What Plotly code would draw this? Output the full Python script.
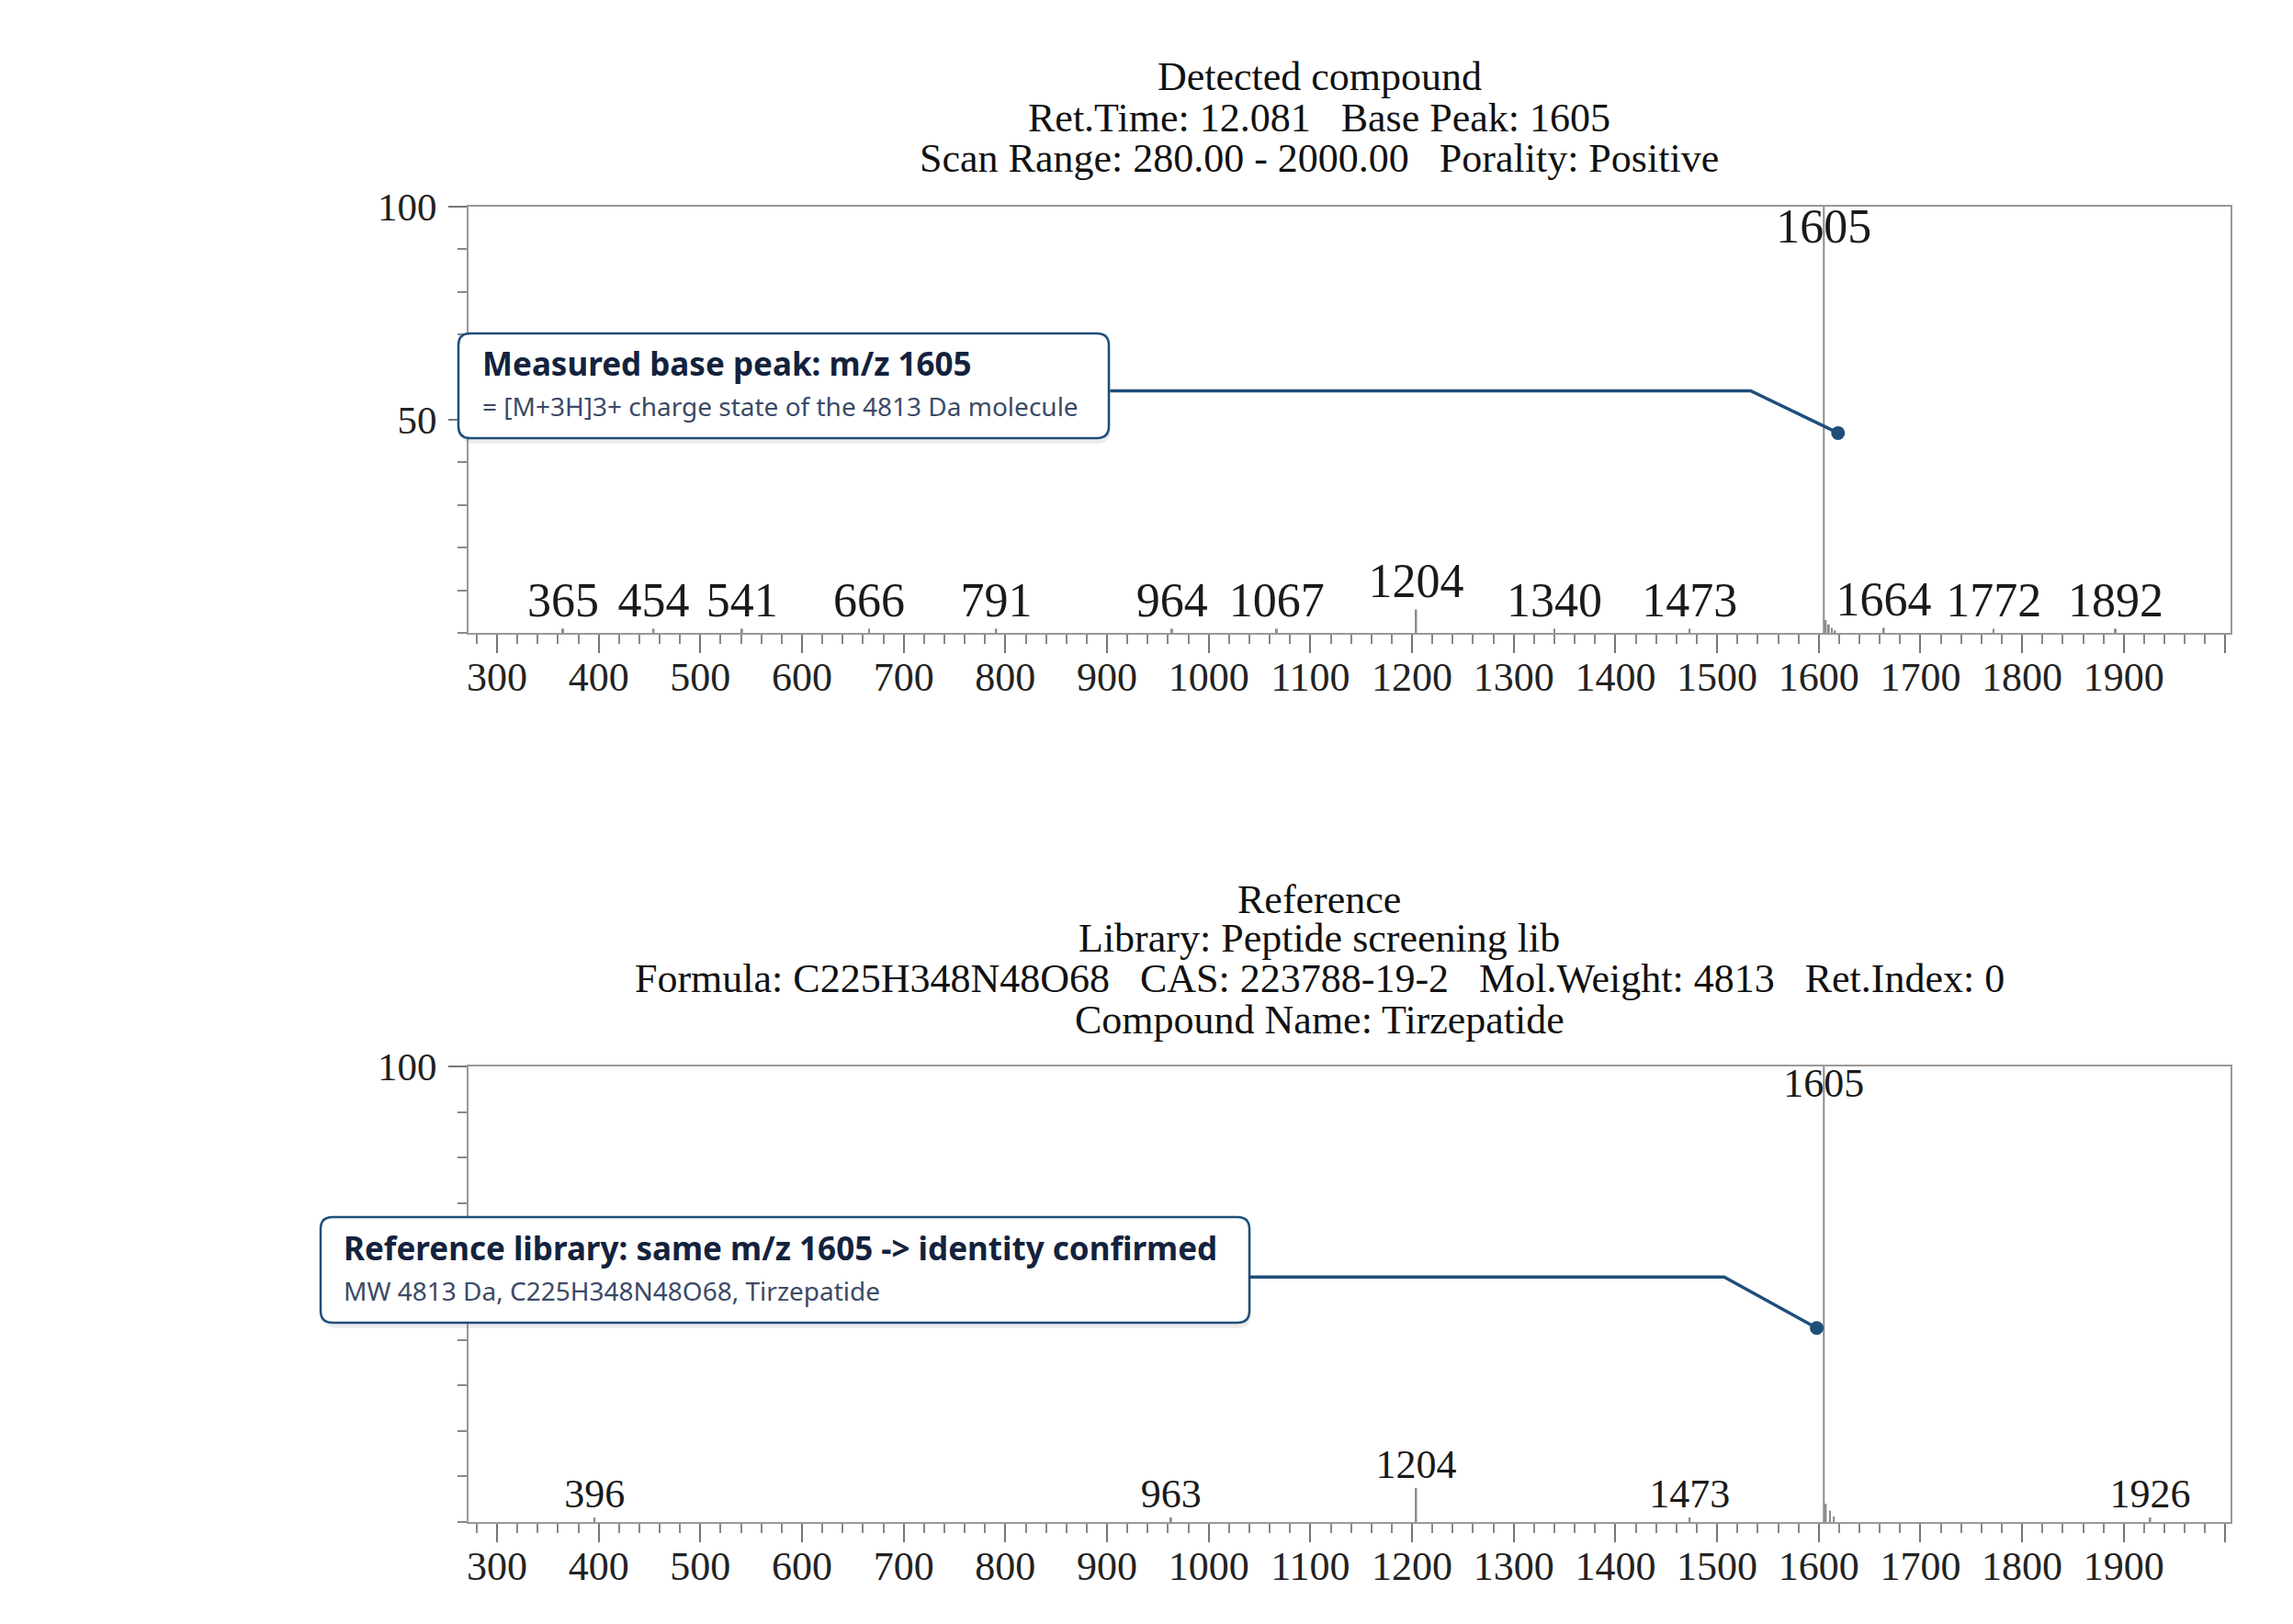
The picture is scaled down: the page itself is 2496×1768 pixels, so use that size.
import plotly.graph_objects as go
from plotly.subplots import make_subplots

# detected spectrum: labelled peaks (m/z, relative intensity %)
detected_mz = [365, 454, 541, 666, 791, 964, 1067, 1204, 1340, 1473, 1605, 1664, 1772, 1892]
detected_int = [1.0, 1.0, 1.0, 1.0, 1.0, 1.0, 1.0, 5.5, 1.0, 1.0, 100.0, 1.2, 1.0, 1.0]
# small unlabelled shoulder next to the base peak
detected_iso_mz = [1607, 1610, 1613, 1616]
detected_iso_int = [3.0, 2.0, 1.2, 0.6]

# library reference spectrum
reference_mz = [396, 963, 1204, 1473, 1605, 1926]
reference_int = [1.0, 1.0, 7.5, 1.0, 100.0, 1.0]
reference_iso_mz = [1607, 1611, 1615]
reference_iso_int = [4.0, 2.5, 1.2]

x_tickvals = [300, 400, 500, 600, 700, 800, 900, 1000, 1100, 1200,
              1300, 1400, 1500, 1600, 1700, 1800, 1900, 2000]
x_ticktext = ['300', '400', '500', '600', '700', '800', '900', '1000', '1100', '1200',
              '1300', '1400', '1500', '1600', '1700', '1800', '1900', '']
y_tickvals = [50, 100]
y_ticktext_top = ['50', '100']
y_ticktext_bottom = ['', '100']  # the 50 label sits under the callout box

SP = '\u00a0\u00a0\u00a0'
detected_title = ['Detected compound',
                  'Ret.Time: 12.081' + SP + 'Base Peak: 1605',
                  'Scan Range: 280.00 - 2000.00' + SP + 'Porality: Positive']
reference_title = ['Reference',
                   'Library: Peptide screening lib',
                   'Formula: C225H348N48O68' + SP + 'CAS: 223788-19-2' + SP + 'Mol.Weight: 4813' + SP + 'Ret.Index: 0',
                   'Compound Name: Tirzepatide']

# callouts: text, box in pixels, connector (start, elbow, dot) in data units
callouts = [
    dict(row=1, title='Measured base peak: m/z 1605',
         sub='= [M+3H]3+ charge state of the 4813 Da molecule',
         box=(491, 355, 1199, 469), text_x=515, title_y=388, sub_y=434,
         cx=[903, 1533, 1619], cy=[56.8, 56.8, 46.9]),
    dict(row=2, title='Reference library: same m/z 1605 -> identity confirmed',
         sub='MW 4813 Da, C225H348N48O68, Tirzepatide',
         box=(341, 1317, 1352, 1432), text_x=364, title_y=1350, sub_y=1397,
         cx=[1040, 1507, 1598], cy=[53.8, 53.8, 42.6]),
]

W, H = 2496, 1768
ML, MR, MT, MB = 502, 76, 217, 119
PW, PH = W - ML - MR, H - MT - MB
TOP_AXIS_Y = 681      # pixel row of the upper x axis
BOTTOM_TOP_Y = 1153   # pixel row of the lower panel's top frame


def px(x):
    return (x - ML) / PW


def py(y):
    return (H - MB - y) / PH


def rounded_box(x0, y0, x1, y1, r=13):
    rx, ry = r / PW, r / PH
    a, b, c, d = px(x0), py(y1), px(x1), py(y0)  # left, bottom, right, top
    return (f'M {a+rx},{d} L {c-rx},{d} Q {c},{d} {c},{d-ry} L {c},{b+ry} '
            f'Q {c},{b} {c-rx},{b} L {a+rx},{b} Q {a},{b} {a},{b+ry} '
            f'L {a},{d-ry} Q {a},{d} {a+rx},{d} Z')


SERIF = 'Liberation Serif'
NAVY = '#1f4e79'
PEAK = '#8c8c8c'

fig = make_subplots(rows=2, cols=1)

spectra = [
    (1, detected_mz, detected_int, detected_iso_mz, detected_iso_int, 52),
    (2, reference_mz, reference_int, reference_iso_mz, reference_iso_int, 44),
]
for row, mz, inten, iso_mz, iso_int, lab_size in spectra:
    fig.add_trace(go.Bar(x=iso_mz, y=iso_int, width=1.6, marker=dict(color=PEAK, line_width=0),
                         showlegend=False, hoverinfo='skip'), row=row, col=1)
    fig.add_trace(go.Bar(x=mz, y=inten, width=1.8, marker=dict(color=PEAK, line_width=0),
                         showlegend=False), row=row, col=1)
    fig.add_trace(go.Scatter(
        x=mz, y=inten, mode='text', text=[str(m) for m in mz],
        textposition=['bottom center' if v >= 90 else 'top center' for v in inten],
        textfont=dict(family=SERIF, size=lab_size, color='#1a1a1a'),
        cliponaxis=False, showlegend=False, hoverinfo='skip'), row=row, col=1)

for c in callouts:
    fig.add_trace(go.Scatter(x=c['cx'], y=c['cy'], mode='lines',
                             line=dict(color=NAVY, width=3.5),
                             showlegend=False, hoverinfo='skip'), row=c['row'], col=1)
    fig.add_trace(go.Scatter(x=c['cx'][-1:], y=c['cy'][-1:], mode='markers',
                             marker=dict(color=NAVY, size=15),
                             showlegend=False, hoverinfo='skip'), row=c['row'], col=1)
    x0, y0, x1, y1 = c['box']
    fig.add_shape(type='path', path=rounded_box(x0 + 2, y0 + 5, x1 + 2, y1 + 6, 15),
                  xref='paper', yref='paper', layer='above',
                  fillcolor='rgba(0,0,0,0.07)', line=dict(width=0))
    fig.add_shape(type='path', path=rounded_box(x0, y0, x1, y1),
                  xref='paper', yref='paper', layer='above',
                  fillcolor='white', line=dict(color=NAVY, width=2.5))
    fig.add_annotation(x=px(c['text_x']), y=py(c['title_y']), xref='paper', yref='paper',
                       text='<b>' + c['title'] + '</b>', showarrow=False,
                       xanchor='left', yanchor='middle',
                       font=dict(family='Noto Sans', size=35, color='#13223d'))
    fig.add_annotation(x=px(c['text_x']), y=py(c['sub_y']), xref='paper', yref='paper',
                       text=c['sub'], showarrow=False, xanchor='left', yanchor='middle',
                       font=dict(family='Noto Sans', size=28, color='#3b4a66'))

title_center = px(1428)
for line, ypix in zip(detected_title, [75, 120, 165]):
    fig.add_annotation(x=title_center, y=py(ypix), xref='paper', yref='paper', text=line,
                       showarrow=False, xanchor='center', yanchor='middle',
                       font=dict(family=SERIF, size=44, color='#111'))
for line, ypix in zip(reference_title, [971, 1013, 1057, 1102]):
    fig.add_annotation(x=title_center, y=py(ypix), xref='paper', yref='paper', text=line,
                       showarrow=False, xanchor='center', yanchor='middle',
                       font=dict(family=SERIF, size=44, color='#111'))

fig.update_xaxes(
    range=[272, 2005], tickmode='array', tickvals=x_tickvals, ticktext=x_ticktext,
    ticks='outside', ticklen=20, tickwidth=2, tickcolor='#777',
    minor=dict(dtick=20, tick0=0, ticks='outside', ticklen=10, tickwidth=2, tickcolor='#888'),
    showline=True, linecolor='#999', linewidth=2, mirror=True,
    showgrid=False, zeroline=False, ticklabelstandoff=-12,
    tickfont=dict(family=SERIF, size=44, color='#222'),
)
fig.update_yaxes(
    range=[0, 100], tickmode='array', tickvals=y_tickvals,
    ticks='outside', ticklen=20, tickwidth=2, tickcolor='#777',
    minor=dict(dtick=10, tick0=0, ticks='outside', ticklen=10, tickwidth=2, tickcolor='#888'),
    showline=True, linecolor='#999', linewidth=2, mirror=True,
    showgrid=False, zeroline=False, ticklabelstandoff=4,
    tickfont=dict(family=SERIF, size=43, color='#222'),
)
fig.update_layout(
    width=W, height=H,
    margin=dict(l=ML, r=MR, t=MT, b=MB),
    barmode='overlay',
    plot_bgcolor='white', paper_bgcolor='white',
    xaxis=dict(domain=[0, 1]), xaxis2=dict(domain=[0, 1]),
    yaxis=dict(domain=[py(TOP_AXIS_Y), 1], ticktext=y_ticktext_top),
    yaxis2=dict(domain=[0, py(BOTTOM_TOP_Y)], ticktext=y_ticktext_bottom),
    showlegend=False,
)

fig.write_html('out.html')
